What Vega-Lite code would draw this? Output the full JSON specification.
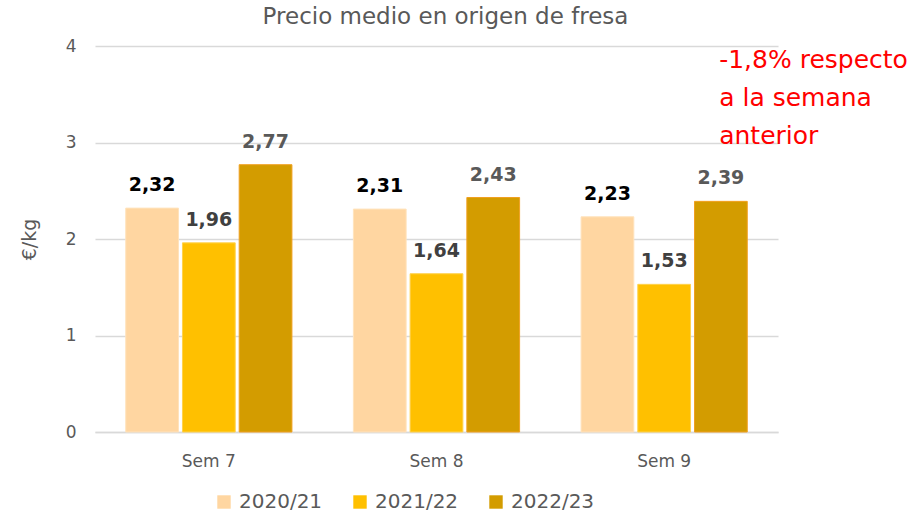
{
  "$schema": "https://vega.github.io/schema/vega-lite/v6.json",
  "width": 683,
  "height": 386,
  "autosize": "none",
  "padding": {"left": 95, "top": 46, "right": 136, "bottom": 86},
  "config": {
    "font": "DejaVu Sans",
    "view": {"stroke": null},
    "locale": {"number": {"decimal": ",", "thousands": ".", "grouping": [3], "currency": ["", " €"]}}
  },
  "title": {
    "text": "Precio medio en origen de fresa",
    "fontSize": 23,
    "fontWeight": "normal",
    "color": "#595959",
    "offset": 8,
    "dx": 9
  },
  "datasets": {
    "prices": [
      {"week": "Sem 7", "season": "2020/21", "price": 2.32},
      {"week": "Sem 7", "season": "2021/22", "price": 1.96},
      {"week": "Sem 7", "season": "2022/23", "price": 2.77},
      {"week": "Sem 8", "season": "2020/21", "price": 2.31},
      {"week": "Sem 8", "season": "2021/22", "price": 1.64},
      {"week": "Sem 8", "season": "2022/23", "price": 2.43},
      {"week": "Sem 9", "season": "2020/21", "price": 2.23},
      {"week": "Sem 9", "season": "2021/22", "price": 1.53},
      {"week": "Sem 9", "season": "2022/23", "price": 2.39}
    ],
    "note": [
      {"week": "Sem 9", "level": 4, "note": "-1,8% respecto\na la semana\nanterior"}
    ]
  },
  "layer": [
    {
      "data": {"name": "prices"},
      "mark": {"type": "bar", "strokeWidth": 1},
      "encoding": {
        "x": {
          "field": "week",
          "type": "nominal",
          "sort": ["Sem 7", "Sem 8", "Sem 9"],
          "scale": {"paddingInner": 0.27, "paddingOuter": 0.135},
          "axis": {
            "title": null,
            "labelAngle": 0,
            "domainColor": "#D9D9D9",
            "domainWidth": 1.5,
            "ticks": false,
            "labelFontSize": 17,
            "labelColor": "#595959",
            "labelPadding": 21
          }
        },
        "y": {
          "field": "price",
          "type": "quantitative",
          "scale": {"domain": [0, 4]},
          "axis": {
            "values": [0, 1, 2, 3, 4],
            "format": "d",
            "gridColor": "#D9D9D9",
            "gridWidth": 1.5,
            "domain": false,
            "ticks": false,
            "labelFontSize": 17,
            "labelColor": "#595959",
            "labelPadding": 19,
            "title": "€/kg",
            "titleFontSize": 19,
            "titleFontWeight": "normal",
            "titleColor": "#595959",
            "titlePadding": 26
          }
        },
        "xOffset": {
          "field": "season",
          "type": "nominal",
          "scale": {"paddingInner": 0.07, "paddingOuter": 0}
        },
        "color": {
          "field": "season",
          "type": "nominal",
          "scale": {"domain": ["2020/21", "2021/22", "2022/23"], "range": ["#FFD6A1", "#FFC000", "#D39C00"]},
          "legend": {
            "orient": "none",
            "legendX": 119,
            "legendY": 446,
            "direction": "horizontal",
            "title": null,
            "symbolType": "square",
            "symbolSize": 180,
            "symbolStrokeWidth": 0,
            "labelFontSize": 20,
            "labelColor": "#595959",
            "labelOffset": 5,
            "columnPadding": 27
          }
        },
        "stroke": {
          "field": "season",
          "type": "nominal",
          "scale": {"domain": ["2020/21", "2021/22", "2022/23"], "range": ["#FFE3BD", "#FFD24D", "#F0A020"]},
          "legend": null
        }
      }
    },
    {
      "data": {"name": "prices"},
      "mark": {"type": "text", "fontSize": 19, "fontWeight": "bold", "baseline": "alphabetic", "dy": -17},
      "encoding": {
        "x": {"field": "week", "type": "nominal", "sort": ["Sem 7", "Sem 8", "Sem 9"]},
        "y": {"field": "price", "type": "quantitative"},
        "xOffset": {"field": "season", "type": "nominal"},
        "text": {"field": "price", "type": "quantitative", "format": ".2f"},
        "color": {
          "condition": [
            {"test": "datum.season === '2020/21'", "value": "#000000"},
            {"test": "datum.season === '2021/22'", "value": "#404040"}
          ],
          "value": "#595959"
        }
      }
    },
    {
      "data": {"name": "note"},
      "mark": {
        "type": "text",
        "align": "left",
        "baseline": "top",
        "fontSize": 25,
        "color": "#FF0000",
        "lineBreak": "\n",
        "lineHeight": 38,
        "dx": 55,
        "dy": 2
      },
      "encoding": {
        "x": {"field": "week", "type": "nominal", "sort": ["Sem 7", "Sem 8", "Sem 9"]},
        "y": {"field": "level", "type": "quantitative"},
        "text": {"field": "note"}
      }
    }
  ]
}
